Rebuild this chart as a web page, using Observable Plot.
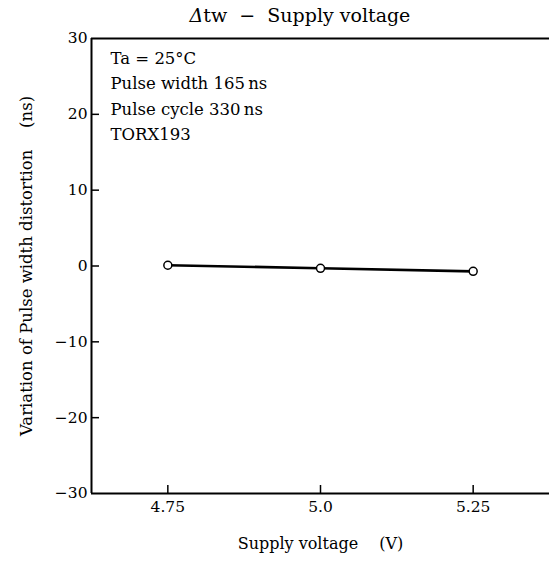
<!DOCTYPE html>
<html>
<head>
<meta charset="utf-8">
<script src="https://cdn.jsdelivr.net/npm/d3@7"></script>
<script src="https://cdn.jsdelivr.net/npm/@observablehq/plot@0.6"></script>
<style>
  body { margin: 0; background: #fff; width: 549px; height: 561px; overflow: hidden; }
  #title { height: 30px; line-height: 30px; margin-left: 51px; width: 498px; text-align: center;
    font-family: "DejaVu Serif", serif; font-size: 19px; color: #000; }
</style>
</head>
<body>
<div id="title"><i>Δ</i>tw &nbsp;−&nbsp; Supply voltage</div>
<div id="chart"></div>
<script>
const voltage = [4.75, 5.0, 5.25];
const dtw = [0.1, -0.3, -0.7];
const xDomain = [4.625, 5.375];
const yDomain = [-30, 30];
const xTicks = [4.75, 5.0, 5.25];
const xTickLabels = ["4.75", "5.0", "5.25"];
const yTicks = [-30, -20, -10, 0, 10, 20, 30];
const notes = ["Ta = 25°C", "Pulse width 165\u2009ns", "Pulse cycle 330\u2009ns", "TORX193"];
const xLabel = "Supply voltage \u2003(V)";
const yLabel = "Variation of Pulse width distortion \u2003(ns)";

const data = voltage.map((v, i) => ({v, d: dtw[i]}));
const font = "DejaVu Serif";
const W = 549, H = 531, mt = 8, mb = 68, ml = 91, mr = 0;
const tick = 8;

const chart = Plot.plot({
  width: W,
  height: H,
  marginTop: mt,
  marginBottom: mb,
  marginLeft: ml,
  marginRight: mr,
  style: {fontFamily: font, fontSize: "15.5px", color: "#000", background: "#fff"},
  x: {domain: xDomain, ticks: xTicks, tickSize: 0, tickPadding: 7, tickFormat: (d, i) => xTickLabels[i], label: null},
  y: {domain: yDomain, ticks: yTicks, tickSize: 0, tickPadding: 4, label: null},
  marks: [
    Plot.ruleX(xDomain.slice(0, 1), {strokeWidth: 2}),
    Plot.ruleY(yDomain, {strokeWidth: 2}),
    Plot.tickY(yTicks.slice(1, -1), {strokeWidth: 1.5, insetRight: W - ml - mr - tick}),
    Plot.tickX(xTicks, {strokeWidth: 1.5, insetTop: H - mt - mb - tick}),
    Plot.line(data, {x: "v", y: "d", stroke: "black", strokeWidth: 2.7}),
    Plot.dot(data, {x: "v", y: "d", r: 4, fill: "white", stroke: "black", strokeWidth: 1.5}),
    Plot.text([notes.join("\n")], {frameAnchor: "top-left", dx: 19, dy: 7, lineAnchor: "top", lineHeight: 1.55, fontSize: 16.5, textAnchor: "start"}),
    Plot.text([xLabel], {frameAnchor: "bottom", dy: 55, fontSize: 16}),
    Plot.text([yLabel], {frameAnchor: "left", dx: -65, rotate: -90, textAnchor: "middle", fontSize: 16.5})
  ]
});
document.getElementById("chart").appendChild(chart);
</script>
</body>
</html>
